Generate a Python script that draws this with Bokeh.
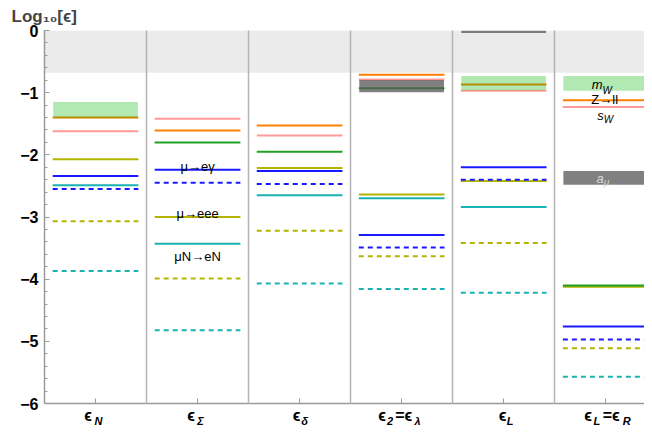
from bokeh.plotting import figure
from bokeh.models import Label, FixedTicker, SingleIntervalTicker, ColumnDataSource, Range1d, LinearAxis
from bokeh.embed import file_html
from bokeh.resources import INLINE

# ---- data -------------------------------------------------------------
col_pos = [0.5, 1.5, 2.5, 3.5, 4.5, 5.5]          # epsilon_N, Sigma, delta, 2=lambda, L, L=R

orange       = [-1.40, -1.61, -1.53, -0.71, -0.87, -1.12]
pink         = [-1.62, -1.42, -1.69, -0.79, -0.97, -1.23]
green        = [None,  -1.80, -1.95, -0.93, None,  -4.10]
olive        = [-2.07, -3.00, -2.21, -2.64, -2.42, -4.12]
blue         = [-2.34, -2.24, -2.26, -3.29, -2.20, -4.76]
cyan         = [-2.49, -3.43, -2.65, -2.70, -2.84, None]
blue_dashed  = [-2.55, -2.45, -2.47, -3.49, -2.40, -4.97]
olive_dashed = [-3.07, -3.99, -3.22, -3.63, -3.42, -5.11]
cyan_dashed  = [-3.87, -4.82, -4.07, -4.16, -4.22, -5.57]

green_box_x      = [0.5, 4.5, 5.5]
green_box_top    = [-1.15, -0.73, -0.73]
green_box_bottom = [-1.41, -0.96, -0.97]

gray_box_x      = [3.5, 4.5, 5.5]
gray_box_top    = [-0.795, 0.0, -2.26]
gray_box_bottom = [-0.995, -0.04, -2.48]

band_top, band_bottom = 0.0, -0.68

y_ticks = [0, -1, -2, -3, -4, -5, -6]
y_tick_labels = ["0", "\u22121", "\u22122", "\u22123", "\u22124", "\u22125", "\u22126"]

eps = "\u03f5"
cat_main_pos = [0.426, 1.436, 2.471, 3.309, 3.52, 4.49, 5.328, 5.554]
cat_main_txt = [eps, eps, eps, eps, "=" + eps, eps, eps, "=" + eps]
cat_sub_pos = [0.529, 1.529, 2.549, 3.387, 3.657, 4.564, 5.412, 5.706]
cat_sub_txt = ["N", "\u03a3", "\u03b4", "2", "\u03bb", "L", "L", "R"]

FONT = "Liberation Sans"

# ---- figure -----------------------------------------------------------
p = figure(width=644, height=429, output_backend="svg", toolbar_location=None,
           x_range=Range1d(0, 5.88), y_range=Range1d(-6, 0),
           min_border_left=44, min_border_right=0, min_border_top=30, min_border_bottom=20,
           title="Log\u2081\u2080[" + eps + "]")
p.outline_line_color = None
p.background_fill_color = "white"
p.border_fill_color = "white"
p.title.text_font = FONT
p.title.text_font_size = "17px"
p.title.text_font_style = "bold"
p.title.align = "left"
p.title.offset = -33
p.title.standoff = 9

# excluded band
p.quad(left=[0], right=[6], top=[band_top], bottom=[band_bottom],
       fill_color="#ebebeb", line_color=None)

HW = 0.42
def lines(vals, color, dash="solid"):
    xs = [c for c, v in zip(col_pos, vals) if v is not None]
    ys = [v for v in vals if v is not None]
    src = ColumnDataSource(dict(x0=[x - HW for x in xs], x1=[x + HW for x in xs], y=ys))
    p.segment(x0="x0", x1="x1", y0="y", y1="y", source=src, line_color=color,
              line_width=2, line_dash=dash, line_cap="butt")

lines(olive, "#b3b300")
lines(olive_dashed, "#b3b300", "5 4")
lines(cyan, "#1ab3b3")
lines(cyan_dashed, "#1ab3b3", "5 4")
lines(green, "#22a022")
lines(pink, "#ff9999")
lines(orange, "#ff8000")
lines(blue, "#1a1aff")
lines(blue_dashed, "#1a1aff", "5 4")

BW = 0.415
p.quad(left=[x - BW for x in green_box_x], right=[x + BW for x in green_box_x],
       top=green_box_top, bottom=green_box_bottom,
       fill_color="#00b300", fill_alpha=0.3, line_color=None)
p.quad(left=[x - BW for x in gray_box_x], right=[x + BW for x in gray_box_x],
       top=gray_box_top, bottom=gray_box_bottom,
       fill_color="#555555", fill_alpha=0.75, line_color=None)

# ---- axes -------------------------------------------------------------
yax = p.yaxis[0]
yax.ticker = SingleIntervalTicker(interval=1, num_minor_ticks=5)
yax.major_label_overrides = {t: l for t, l in zip(y_ticks, y_tick_labels)}
yax.major_label_text_font = FONT
yax.major_label_text_font_style = "bold"
yax.major_label_text_font_size = "16px"
yax.major_label_text_color = "black"
yax.major_label_standoff = 6
yax.axis_line_color = "#9a9a9a"
yax.axis_line_width = 1.5
yax.major_tick_in = 5
yax.major_tick_out = 0
yax.minor_tick_in = 3
yax.minor_tick_out = 0
yax.major_tick_line_color = "#9a9a9a"
yax.minor_tick_line_color = "#9a9a9a"

# bottom axis: main "epsilon" glyphs as labels, column centres as tick marks
xax = p.xaxis[0]
xax.ticker = FixedTicker(ticks=cat_main_pos, minor_ticks=col_pos)
xax.major_label_overrides = {t: l for t, l in zip(cat_main_pos, cat_main_txt)}
xax.major_label_text_font = FONT
xax.major_label_text_font_style = "bold"
xax.major_label_text_font_size = "16px"
xax.major_label_text_color = "black"
xax.major_label_standoff = 3
xax.axis_line_color = "#9a9a9a"
xax.axis_line_width = 1.5
xax.major_tick_line_color = None
xax.major_tick_in = 0
xax.major_tick_out = 0
xax.minor_tick_in = 5
xax.minor_tick_out = 0
xax.minor_tick_line_color = "#9a9a9a"
xax.minor_tick_line_width = 1

# second bottom axis carrying the subscripts
sub = LinearAxis(ticker=FixedTicker(ticks=cat_sub_pos),
                 major_label_overrides={t: l for t, l in zip(cat_sub_pos, cat_sub_txt)},
                 major_label_text_font=FONT, major_label_text_font_style="bold italic",
                 major_label_text_font_size="11px", major_label_text_color="black",
                 major_label_standoff=-12, axis_line_color=None,
                 major_tick_in=0, major_tick_out=0, minor_tick_in=0, minor_tick_out=0,
                 major_tick_line_color=None, minor_tick_line_color=None)
p.add_layout(sub, "below")

p.ygrid.grid_line_color = None
p.xgrid.ticker = FixedTicker(ticks=[1, 2, 3, 4, 5])
p.xgrid.grid_line_color = "#b4b4b4"
p.xgrid.grid_line_width = 1.5
p.xgrid.level = "annotation"

# ---- in-plot text -----------------------------------------------------
def lab(x, y, text, size, style="normal", color="black", align="left", baseline="alphabetic"):
    p.add_layout(Label(x=x, y=y, text=text, text_font=FONT, text_font_size=f"{size}px",
                       text_font_style=style, text_color=color, text_align=align,
                       text_baseline=baseline))

# process labels in column epsilon_Sigma
lab(1.5, -2.18, "\u03bc\u2192e\u03b3", 13, align="center")
lab(1.5, -2.94, "\u03bc\u2192eee", 13, align="center")
lab(1.5, -3.64, "\u03bcN\u2192eN", 13, align="center")

# observable labels in column epsilon_L = epsilon_R
lab(5.468, -0.874, "m", 13, "italic", align="right"); lab(5.468, -0.97, "W", 10, "italic")
lab(5.49, -1.11, "Z\u2192ll", 13, align="center")
lab(5.48, -1.36, "s", 13, "italic", align="right"); lab(5.48, -1.43, "W", 10, "italic")
lab(5.48, -2.385, "a", 13, "italic", color="#d9d9d9", align="right")
lab(5.48, -2.44, "\u03bc", 10, "italic", color="#d9d9d9")

open("out.html", "w").write(file_html(p, INLINE))
